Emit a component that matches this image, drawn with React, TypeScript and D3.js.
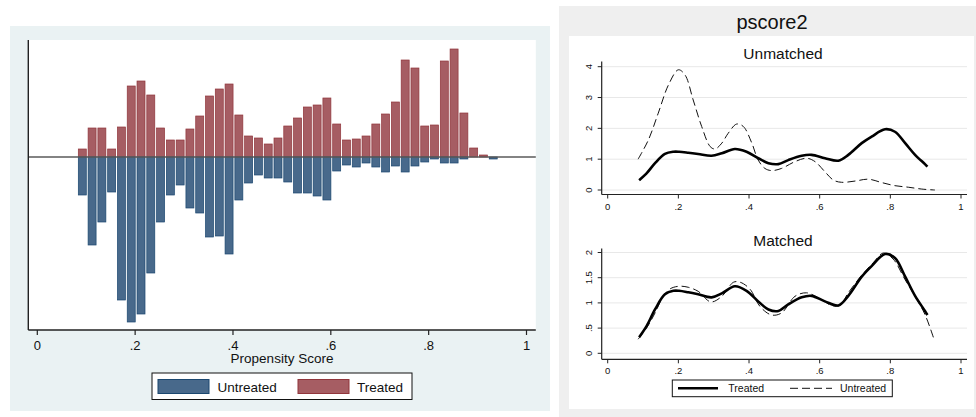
import React from "react";
import * as d3 from "d3";

// ---------- Data ----------
// Left: mirrored histogram of propensity score (bins of width 0.02 starting at 0.082)
const binStart = 0.082;
const binWidth = 0.02;
const treatedFreq = [8, 29, 29, 8, 30, 71, 76, 62, 29, 17, 17, 28, 41, 61, 68, 73, 42, 21, 19, 13, 19, 31, 39, 50, 52, 59, 33, 17, 18, 21, 33, 43, 55, 97, 89, 31, 32, 96, 108, 44, 9, 2, 0];
const untreatedFreq = [38, 88, 65, 35, 143, 165, 157, 116, 65, 38, 28, 51, 56, 80, 79, 97, 43, 26, 18, 21, 21, 25, 36, 36, 39, 43, 14, 8, 10, 6, 10, 15, 9, 15, 9, 5, 2, 6, 6, 2, 0, 0, 2];
const xTicks = [0, 0.2, 0.4, 0.6, 0.8, 1];
const xTickLabels = ["0", ".2", ".4", ".6", ".8", "1"];

// Right: kernel densities
const treatedX = [0.089, 0.11, 0.134, 0.162, 0.186, 0.202, 0.228, 0.256, 0.294, 0.323, 0.36, 0.393, 0.426, 0.455, 0.483, 0.511, 0.549, 0.577, 0.615, 0.653, 0.681, 0.719, 0.747, 0.785, 0.813, 0.842, 0.87, 0.898, 0.905];
const treatedY = [0.32, 0.54, 0.87, 1.17, 1.24, 1.24, 1.21, 1.17, 1.11, 1.19, 1.33, 1.24, 1.03, 0.87, 0.84, 0.97, 1.11, 1.14, 1.03, 0.95, 1.14, 1.52, 1.73, 1.97, 1.89, 1.52, 1.14, 0.84, 0.76];
const untreatedUX = [0.086, 0.115, 0.143, 0.172, 0.2, 0.219, 0.242, 0.266, 0.29, 0.304, 0.323, 0.341, 0.365, 0.384, 0.408, 0.426, 0.445, 0.464, 0.492, 0.53, 0.563, 0.587, 0.615, 0.639, 0.662, 0.7, 0.738, 0.776, 0.813, 0.851, 0.889, 0.926];
const untreatedUY = [1.0, 1.62, 2.49, 3.41, 3.9, 3.73, 2.92, 2.06, 1.41, 1.33, 1.52, 1.84, 2.14, 2.06, 1.52, 0.97, 0.7, 0.63, 0.7, 0.92, 1.03, 0.92, 0.59, 0.32, 0.25, 0.29, 0.35, 0.24, 0.14, 0.09, 0.03, 0.0];
const untreatedMX = [0.086, 0.11, 0.134, 0.157, 0.177, 0.202, 0.228, 0.256, 0.292, 0.323, 0.356, 0.375, 0.403, 0.431, 0.464, 0.492, 0.53, 0.563, 0.596, 0.634, 0.657, 0.681, 0.719, 0.752, 0.78, 0.808, 0.841, 0.87, 0.898, 0.924];
const untreatedMY = [0.28, 0.5, 0.8, 1.13, 1.28, 1.33, 1.31, 1.23, 1.02, 1.13, 1.41, 1.41, 1.27, 0.93, 0.76, 0.8, 1.13, 1.2, 1.1, 0.95, 0.95, 1.2, 1.55, 1.8, 1.99, 1.87, 1.47, 1.13, 0.77, 0.27];
const yTicksU = [0, 1, 2, 3, 4];
const yTickLabelsU = ["0", "1", "2", "3", "4"];
const yTicksM = [0, 0.5, 1, 1.5, 2];
const yTickLabelsM = ["0", ".5", "1", "1.5", "2"];

const FONT = "'Liberation Sans', Arial, Helvetica, sans-serif";

const BLUE_FILL = "#48698b";
const BLUE_LINE = "#1a476f";
const RED_FILL = "#a65d63";
const RED_LINE = "#90353b";

function zip(xs: number[], ys: number[]): [number, number][] {
  return xs.map((x, i) => [x, ys[i]]);
}

export default function App() {
  // Left panel scales
  const xL = d3.scaleLinear().domain([0, 1]).range([37.3, 526.5]);
  const yL = d3.scaleLinear().domain([-173, 117]).range([330, 40]);
  const bw = xL(binWidth) - xL(0);

  // Right panel scales
  const xR = d3.scaleLinear().domain([0, 1]).range([607.7, 961]);
  const yU = d3.scaleLinear().domain([0, 4]).range([190, 66.7]);
  const yM = d3.scaleLinear().domain([0, 2]).range([353.3, 252.5]);

  const lineU = d3
    .line<[number, number]>()
    .x((d) => xR(d[0]))
    .y((d) => yU(d[1]))
    .curve(d3.curveCatmullRom.alpha(0.5));
  const lineM = d3
    .line<[number, number]>()
    .x((d) => xR(d[0]))
    .y((d) => yM(d[1]))
    .curve(d3.curveCatmullRom.alpha(0.5));

  const rAxisX0 = 601.7;
  const rAxisX1 = 967;

  const renderRightPanel = (
    yS: d3.ScaleLinear<number, number>,
    ticks: number[],
    labels: string[],
    axisTop: number,
    axisY: number,
    title: string,
    titleY: number
  ) => (
    <g>
      <text x={783} y={titleY} textAnchor="middle" fontSize={15.5} fontFamily={FONT} fill="#111">
        {title}
      </text>
      {ticks.map((t, i) => (
        <g key={"g" + i}>
          <line x1={rAxisX0} x2={rAxisX1} y1={yS(t)} y2={yS(t)} stroke="#e8e8e8" strokeWidth={1} />
          <line x1={rAxisX0 - 4} x2={rAxisX0} y1={yS(t)} y2={yS(t)} stroke="#222" strokeWidth={1} />
          <text
            transform={`translate(${591.5},${yS(t)}) rotate(-90)`}
            textAnchor="middle"
            fontSize={9.5}
            fontFamily={FONT}
            fill="#111"
          >
            {labels[i]}
          </text>
        </g>
      ))}
      <line x1={rAxisX0} x2={rAxisX0} y1={axisTop} y2={axisY} stroke="#222" strokeWidth={1.2} />
      <line x1={rAxisX0} x2={rAxisX1} y1={axisY} y2={axisY} stroke="#222" strokeWidth={1.2} />
      {xTicks.map((t, i) => (
        <g key={"x" + i}>
          <line x1={xR(t)} x2={xR(t)} y1={axisY} y2={axisY + 4} stroke="#222" strokeWidth={1} />
          <text x={xR(t)} y={axisY + 15} textAnchor="middle" fontSize={9.5} fontFamily={FONT} fill="#111">
            {xTickLabels[i]}
          </text>
        </g>
      ))}
    </g>
  );

  return (
    <svg
      width={976}
      height={417}
      style={{ position: "absolute", left: 0, top: 0, background: "#fff" }}
    >
      {/* ---------- Left panel ---------- */}
      <rect x={10} y={26} width={540} height={385} fill="#eaf2f3" />
      <rect x={28.3} y={40} width={507.5} height={290} fill="#fff" />
      {treatedFreq.map((v, i) =>
        v > 0 ? (
          <rect
            key={"t" + i}
            x={xL(binStart + i * binWidth) + 0.9}
            y={yL(v)}
            width={bw - 1.8}
            height={yL(0) - yL(v)}
            fill={RED_FILL}
            stroke={RED_LINE}
            strokeWidth={0.7}
          />
        ) : null
      )}
      {untreatedFreq.map((v, i) =>
        v > 0 ? (
          <rect
            key={"u" + i}
            x={xL(binStart + i * binWidth) + 0.9}
            y={yL(0)}
            width={bw - 1.8}
            height={yL(-v) - yL(0)}
            fill={BLUE_FILL}
            stroke={BLUE_LINE}
            strokeWidth={0.7}
          />
        ) : null
      )}
      <line x1={28.3} x2={535.8} y1={yL(0)} y2={yL(0)} stroke="#5a5a5a" strokeWidth={1.5} />
      <line x1={28.3} x2={28.3} y1={40} y2={330} stroke="#222" strokeWidth={1.4} />
      <line x1={28.3} x2={535.8} y1={330} y2={330} stroke="#222" strokeWidth={1.4} />
      {xTicks.map((t, i) => (
        <g key={"lx" + i}>
          <line x1={xL(t)} x2={xL(t)} y1={330} y2={335} stroke="#222" strokeWidth={1.2} />
          <text x={xL(t)} y={349.5} textAnchor="middle" fontSize={13} fontFamily={FONT} fill="#111">
            {xTickLabels[i]}
          </text>
        </g>
      ))}
      <text x={282} y={363} textAnchor="middle" fontSize={13.5} fontFamily={FONT} fill="#111">
        Propensity Score
      </text>
      <rect x={152} y={373} width={260} height={26.5} fill="#fff" stroke="#111" strokeWidth={1} />
      <rect x={158} y={379.5} width={51} height={14} fill={BLUE_FILL} stroke={BLUE_LINE} strokeWidth={1} />
      <text x={217.5} y={392} fontSize={13.5} fontFamily={FONT} fill="#111">
        Untreated
      </text>
      <rect x={298} y={379.5} width={51} height={14} fill={RED_FILL} stroke={RED_LINE} strokeWidth={1} />
      <text x={357} y={392} fontSize={13.5} fontFamily={FONT} fill="#111">
        Treated
      </text>

      {/* ---------- Right panel ---------- */}
      <rect x={559} y={6} width={417} height={411} fill="#efefef" />
      <rect x={569} y={36} width={405} height={373} fill="#fff" />
      <text x={772} y={28.5} textAnchor="middle" fontSize={20} fontFamily={FONT} fill="#111">
        pscore2
      </text>

      {renderRightPanel(yU, yTicksU, yTickLabelsU, 61.5, 194.5, "Unmatched", 58.5)}
      <path d={lineU(zip(untreatedUX, untreatedUY)) || ""} fill="none" stroke="#111" strokeWidth={1} strokeDasharray="8,4" />
      <path d={lineU(zip(treatedX, treatedY)) || ""} fill="none" stroke="#000" strokeWidth={2.6} />

      {renderRightPanel(yM, yTicksM, yTickLabelsM, 248.5, 359.3, "Matched", 245.5)}
      <path d={lineM(zip(untreatedMX, untreatedMY)) || ""} fill="none" stroke="#111" strokeWidth={1} strokeDasharray="8,4" />
      <path d={lineM(zip(treatedX, treatedY)) || ""} fill="none" stroke="#000" strokeWidth={2.6} />

      <rect x={672.3} y={380} width={220} height={16.7} fill="#fff" stroke="#111" strokeWidth={1} />
      <line x1={678} x2={718} y1={388.3} y2={388.3} stroke="#000" strokeWidth={2.6} />
      <text x={728.3} y={392.3} fontSize={10.5} fontFamily={FONT} fill="#111">
        Treated
      </text>
      <line x1={790} x2={832} y1={388.3} y2={388.3} stroke="#111" strokeWidth={1} strokeDasharray="8,4" />
      <text x={840} y={392.3} fontSize={10.5} fontFamily={FONT} fill="#111">
        Untreated
      </text>
    </svg>
  );
}
